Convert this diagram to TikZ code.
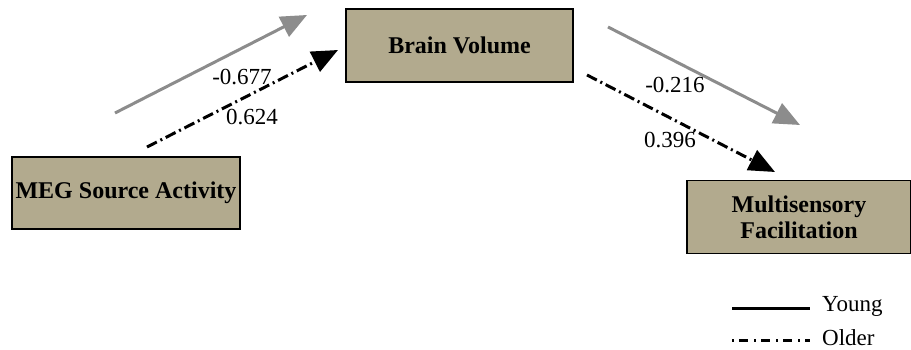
\documentclass[tikz,border=0pt]{standalone}
\usepackage{fontspec}
\setmainfont{Liberation Serif}
\usetikzlibrary{arrows.meta}
\definecolor{boxfill}{HTML}{B2AA8E}
\definecolor{younggray}{HTML}{8C8C8C}
\tikzset{
  factor/.style={draw,line width=1.5pt,fill=boxfill,align=center,inner sep=0pt,
    font=\bfseries\fontsize{24}{26}\selectfont},
  young/.style={line width=3pt,draw=younggray,-{Triangle[length=26pt,width=22pt,fill=younggray]}},
  older/.style={line width=3pt,dash pattern=on 11pt off 4pt on 2pt off 4pt,-{Triangle[length=26pt,width=22pt]}},
  coef/.style={font=\fontsize{23}{25}\selectfont,inner sep=1pt}
}
\begin{document}
\begin{tikzpicture}[x=1pt,y=-1pt]
      \useasboundingbox (0,0) rectangle (911,350);
      \node[factor,minimum width=228pt,minimum height=72pt](meg)   at(126,193)   {MEG Source Activity};
      \node[factor,minimum width=227pt,minimum height=73pt](brain) at(459.5,45.5) {Brain Volume};
      \node[factor,minimum width=224pt,minimum height=73pt](msf)   at(799,217)   {Multisensory\\Facilitation};

      \coordinate(y1s) at(115,113);  \coordinate(y1e) at(307,15);
      \coordinate(o1s) at(147,147);  \coordinate(o1e) at(338,50);
      \coordinate(y2s) at(608,27);   \coordinate(y2e) at(800,125);
      \coordinate(o2s) at(587,75);   \coordinate(o2e) at(775,172);

      \foreach \x/\y/\s in{y1s/y1e/young, o1s/o1e/older, y2s/y2e/young, o2s/o2e/older}{
        \draw[\s](\x)--(\y);
      }

      \node[coef](c677) at(242,77)  {-0.677};
      \node[coef](c624) at(252,117) {0.624};
      \node[coef](c216) at(675,85)  {-0.216};
      \node[coef](c396) at(670,140) {0.396};

      % legend
      \coordinate(ly1) at(732,308);  \coordinate(ly2) at(810,308);
      \coordinate(lo1) at(732,340);  \coordinate(lo2) at(810,340);
      \draw[line width=3pt](ly1)--(ly2);
      \draw[line width=3pt,dash pattern=on 2pt off 5pt on 9pt off 6pt](lo1)--(lo2);
      \node[coef,anchor=west](young) at(821,306) {Young};
      \node[coef,anchor=west](older) at(821,338) {Older};
\end{tikzpicture}
\end{document}
